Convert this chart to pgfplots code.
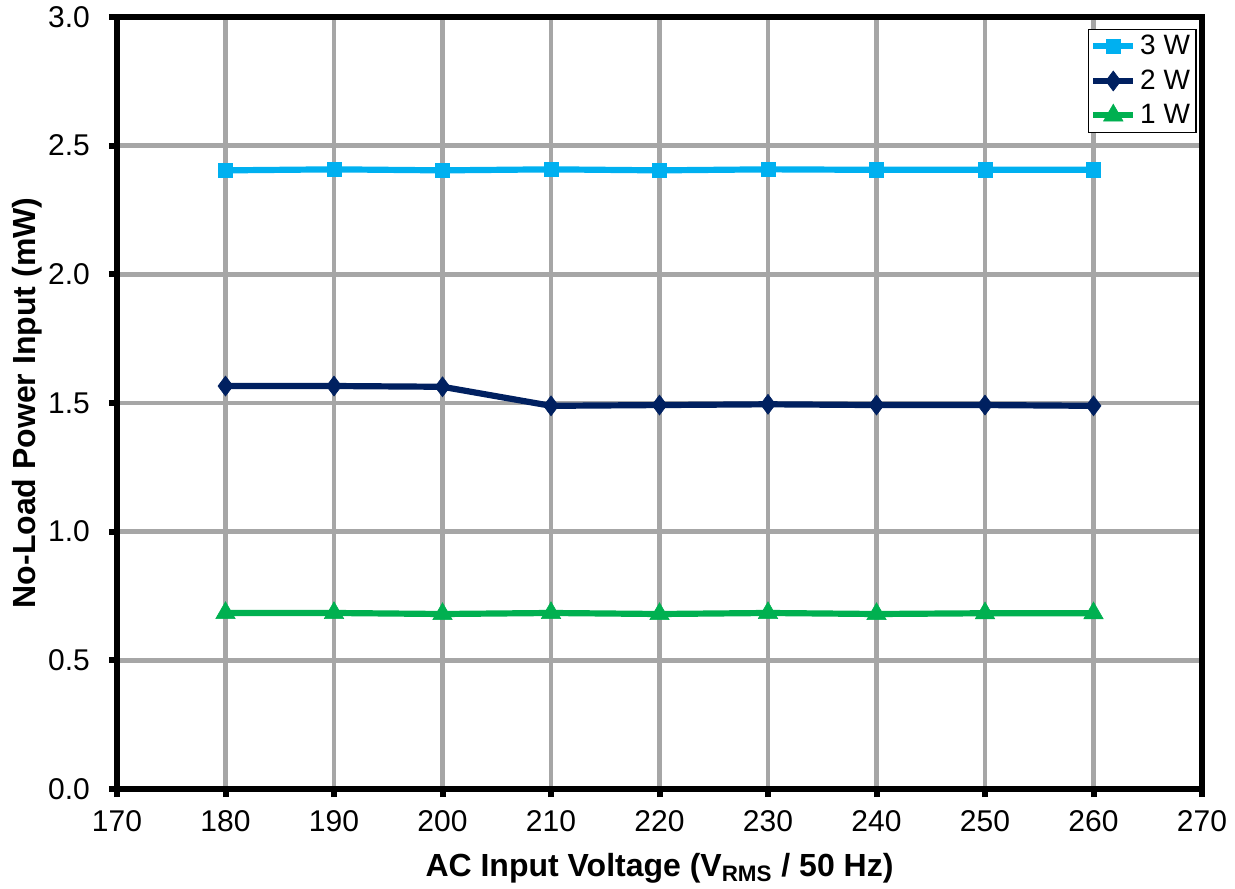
\documentclass[border=0pt]{standalone}
\usepackage{pgfplots}
\pgfplotsset{compat=1.18}
\usepackage{fontspec}
\setmainfont{Liberation Sans}
\definecolor{cthree}{HTML}{00B0F0}
\definecolor{ctwo}{HTML}{002060}
\definecolor{cone}{HTML}{00B050}
\definecolor{cgrid}{HTML}{A6A6A6}
\begin{document}
\begin{tikzpicture}
\useasboundingbox (-58.5pt,-49.5pt) rectangle (559pt,394.5pt);
\begin{axis}[
  at={(0,0)}, anchor=south west,
  scale only axis,
  width=542.5pt, height=386pt,
  xmin=170, xmax=270, ymin=0, ymax=3,
  xtick={170,180,...,270},
  ytick={0,0.5,...,3},
  xtick pos=bottom, ytick pos=left,
  /pgf/number format/assume math mode=true,
  yticklabel style={/pgf/number format/fixed,/pgf/number format/fixed zerofill,/pgf/number format/precision=1, xshift=-6pt},
  xticklabel style={/pgf/number format/1000 sep={}, yshift=-3pt},
  ticklabel style={font=\fontsize{15}{17}\selectfont},
  tick align=outside,
  major tick length=4pt,
  tick style={black, line width=3pt},
  axis line style={black, line width=3pt},
  grid=major,
  major grid style={cgrid, line width=2.3pt},
  xlabel={\textbf{AC Input Voltage (V\textsubscript{RMS} / 50 Hz)}},
  ylabel={\textbf{No-Load Power Input (mW)}},
  label style={font=\fontsize{16}{18}\selectfont},
  xlabel style={yshift=-4pt},
  ylabel style={yshift=-4pt},
  legend style={at={(0.995,0.985)}, anchor=north east, draw=black, line width=0.6pt,
    font=\fontsize{14}{16}\selectfont, inner sep=1pt, row sep=2pt,
    cells={anchor=west}},
  legend image code/.code={\draw[#1, line width=3pt] (0cm,0cm) -- (0.7cm,0cm);
    \draw[#1, mark repeat=1] plot coordinates {(0.35cm,0cm)};},
]
\addplot[cthree, line width=3.1pt, mark=square*, mark size=3.6pt, mark options={solid, line width=0.3pt}] coordinates {
(180,2.404) (190,2.408) (200,2.404) (210,2.408) (220,2.404) (230,2.408) (240,2.406) (250,2.406) (260,2.406)};
\addlegendentry{3 W}
\addplot[ctwo, line width=3.1pt, mark=diamond*, mark size=5pt, mark options={solid, line width=0.3pt}] coordinates {
(180,1.566) (190,1.566) (200,1.563) (210,1.489) (220,1.492) (230,1.495) (240,1.492) (250,1.492) (260,1.489)};
\addlegendentry{2 W}
\addplot[cone, line width=3.1pt, mark=triangle*, mark size=5.6pt, mark options={solid, line width=0.3pt}] coordinates {
(180,0.684) (190,0.684) (200,0.680) (210,0.684) (220,0.680) (230,0.684) (240,0.680) (250,0.683) (260,0.683)};
\addlegendentry{1 W}
\end{axis}
\end{tikzpicture}
\end{document}
